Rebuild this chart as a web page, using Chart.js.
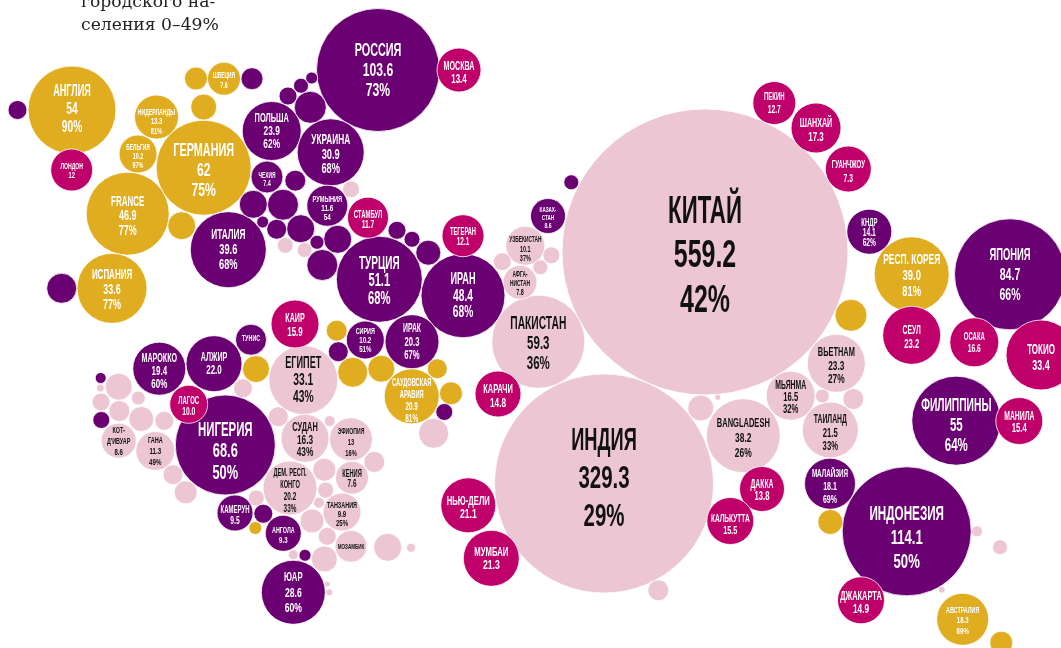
<!DOCTYPE html>
<html>
<head>
<meta charset="utf-8">
<style>
html,body{margin:0;padding:0;background:#fff;overflow:hidden}
canvas{display:block}
</style>
<script src="https://cdn.jsdelivr.net/npm/chart.js@4"></script>
</head>
<body>
<canvas id="chartCities" width="1061" height="648"></canvas>
<script>
// legend fragment, top left of the page
const noteLines=['городского на-','селения 0–49%']

// cities (magenta)
const cityNames=['МОСКВА','ЛОНДОН','СТАМБУЛ','ТЕГЕРАН','КАИР','ЛАГОС','КАРАЧИ','НЬЮ-ДЕЛИ','МУМБАИ','ПЕКИН','ШАНХАЙ','ГУАНЧЖОУ','СЕУЛ','ОСАКА','ТОКИО','МАНИЛА','ДАККА','КАЛЬКУТТА','ДЖАКАРТА']
const cityValues=['13.4','12','11.7','12.1','15.9','10.0','14.8','21.1','21.3','12.7','17.3','7.3','23.2','16.6','33.4','15.4','13.8','15.5','14.9']
const cityX=[459,71.7,368,463,295,188.7,498,468.3,491.3,774.3,816,848.3,911.7,974.3,1041,1019.3,762,730.3,861]
const cityY=[70,170,217.7,235.7,324,404.3,394,505.3,558.3,103,128,169,335.3,342.3,355,421,489,521,600.3]
const cityR=[22,21,20.5,21,24,19,23,27.5,28,21.5,25,23,29,24.5,35,23.5,22.5,23.5,23.5]

// urban share 50-74% (purple), labelled ones first
const midNames=['РОССИЯ','ПОЛЬША','УКРАИНА','ЧЕХИЯ','РУМЫНИЯ','ИТАЛИЯ','ТУРЦИЯ','ИРАН','СИРИЯ','ИРАК','ТУНИС','МАРОККО','АЛЖИР','НИГЕРИЯ','КАМЕРУН','АНГОЛА','ЮАР','КАЗАХ-\nСТАН','КНДР','ЯПОНИЯ','ФИЛИППИНЫ','МАЛАЙЗИЯ','ИНДОНЕЗИЯ']
const midValues=['103.6','23.9','30.9','7.4','11.6','39.6','51.1','48.4','10.2','20.3','','19.4','22.0','68.6','9.5','9.3','28.6','8.6','14.1','84.7','55','18.1','114.1']
const midShares=['73%','62%','68%','','54','68%','68%','68%','51%','67%','','60%','','50%','','','60%','','62%','66%','64%','69%','50%']
const midX=[378,271.7,330.7,267,327.3,228.3,379.3,463,365.3,412,251,159.3,214,225.3,235,283.3,293.3,548,869.3,1010,956.3,830,906.7,
 17.5,252,310.3,288,301,311.7,295.3,253.3,283,262.7,276.7,300.7,337.7,317,322.3,397,412,428.3,571.3,61.7,338.3,444.3,100.7,101.3,263.3,305]
const midY=[70,131,152.3,177,205.7,249.7,279.3,295.7,340,341.7,339.7,368.7,363.7,445,513,533.3,592.3,216,231.7,274.3,420.7,483.7,531.3,
 110,78.7,107.3,96,85.7,78,180.7,204.3,204.7,222,229.3,228.7,239.3,242.3,265,230.3,239.3,252.7,182.3,288.3,351.7,412,378,420,513.7,555.3]
const midR=[61.5,29.5,33.5,16,20.5,38,43,42,19,27,15.5,26.5,28,50,18,18,32,17.5,22.5,55.5,44.5,25.5,64.5,
 9.5,11,16,9,7.5,6,10.5,14,15.5,6,10,14,14,7,15.5,9,8,12.5,7.5,15,10,8.5,5.5,8.5,9.5,6]

// urban share 75-100% (gold), labelled ones first
const highNames=['АНГЛИЯ','ШВЕЦИЯ','НИДЕРЛАНДЫ','БЕЛЬГИЯ','ГЕРМАНИЯ','FRANCE','ИСПАНИЯ','САУДОВСКАЯ\nАРАВИЯ','РЕСП. КОРЕЯ','АВСТРАЛИЯ']
const highValues=['54','7.6','13.3','10.2','62','46.9','33.6','20.9','39.0','18.3']
const highShares=['90%','','81%','97%','75%','77%','77%','81%','81%','89%']
const highX=[72,224,156.5,138,203.7,127.7,112,411.7,911.7,962.7,
 196,203.7,181.7,336.7,352.7,381.3,437.3,451,256,255.3,851,830.3,1001.3]
const highY=[110,78.7,117,154,167.7,213.7,288.3,396.3,274.3,619.3,
 78.5,107,225.7,330.7,372.3,368.7,368.7,393.3,369,528,315.3,522,642.7]
const highR=[44,16.5,22,19,47.5,41.5,35,27.5,37.5,26,
 11.5,13,14,10.5,15,13.5,10,11.5,13.5,6.5,16,12.5,11.5]

// urban share 0-49% (pale pink), labelled ones first
const lowNames=['КИТАЙ','ИНДИЯ','ПАКИСТАН','УЗБЕКИСТАН','АФГА-\nНИСТАН','ЕГИПЕТ','СУДАН','ЭФИОПИЯ','КЕНИЯ','ТАНЗАНИЯ','ДЕМ. РЕСП.\nКОНГО','МОЗАМБИК','КОТ-\nД\'ИВУАР','ГАНА','BANGLADESH','ВЬЕТНАМ','МЬЯНМА','ТАИЛАНД']
const lowValues=['559.2','329.3','59.3','10.1','7.8','33.1','16.3','13','7.6','9.9','20.2','','8.6','11.3','38.2','23.3','16.5','21.5']
const lowShares=['42%','29%','36%','37%','','43%','43%','16%','','25%','33%','','','49%','26%','27%','32%','33%']
const lowX=[705,604,538.3,525.3,520,303.3,305,351,352,342,290,351,118.7,155.3,743.3,836.3,790.7,830.3,
 285.3,304.7,351,551.3,540.3,502.3,658.3,433.7,329.7,374.3,387.7,411,100.3,118.7,101,138.3,119.3,141.3,164.3,243,278.3,173,185.7,324.3,325.7,256.3,319,312,327.3,324.3,293.3,327.3,329.3,822.3,853.3,700.7,717.7,977,1000,941.7]
const lowY=[252,483.5,341.7,245.7,282.3,380,438.3,439.3,477.7,512,488,546.3,440.7,451,435.7,363.3,395.7,430,
 245.3,250,189.3,255.3,267.3,261.7,590.3,433.3,421,462,547.3,547.7,388,386.7,402,398,411,419,420.7,388.3,416.7,474.7,492.3,469.7,490,498,502.7,521,536.3,559,554.7,584,592.3,396,399,408,397.3,531.3,547.3,589.7]
const lowR=[143,109.5,46.5,19.5,17,34.5,24,21.5,16.5,19,27,16,17.5,19.5,37,29,24.5,28,
 8,7.5,8.5,8.5,7.5,9,10.5,15,5.5,10.5,14,4.5,4,13.5,9,7,10.5,12.5,9.5,9.5,10,10,11.5,11.5,8,8,5.5,12,9,13,5,3,3.5,7,10.5,13,3,5.5,7.5,3.5]

// type sizes, keyed by label
const labelFonts={'КИТАЙ':39,'ИНДИЯ':32,'РОССИЯ':19,'ИНДОНЕЗИЯ':20.5,'ЯПОНИЯ':16.5,'НИГЕРИЯ':20,'ГЕРМАНИЯ':19,'ПАКИСТАН':18,'ТУРЦИЯ':17.5,'ИРАН':16,'АНГЛИЯ':16,'ФИЛИППИНЫ':18,'ЕГИПЕТ':16,'FRANCE':14,'ИСПАНИЯ':14,'ИТАЛИЯ':14.5,'BANGLADESH':13.2,'РЕСП. КОРЕЯ':14.8,'ПОЛЬША':13,'УКРАИНА':14.5,'ЮАР':13.5,'ТОКИО':14,'СУДАН':13,'ВЬЕТНАМ':13,'СЕУЛ':12,'ИРАК':12,'АЛЖИР':12.5,'МАРОККО':12.5,'КАИР':12.5,'МОСКВА':12.5,'КАРАЧИ':13,'НЬЮ-ДЕЛИ':13.5,'МУМБАИ':13.5,'ШАНХАЙ':12.5,'ПЕКИН':10.5,'МЬЯНМА':12,'ТАИЛАНД':12,'МАНИЛА':12,'ДЖАКАРТА':13,'МАЛАЙЗИЯ':11,'АВСТРАЛИЯ':9.5,'МОЗАМБИК':8,'КАЗАХ-\nСТАН':8,'НИДЕРЛАНДЫ':9,'БЕЛЬГИЯ':8.5,'УЗБЕКИСТАН':8.5,'АФГА-\nНИСТАН':8.5,'ШВЕЦИЯ':8.5,'ЛОНДОН':9,'ЧЕХИЯ':8.5,'ЭФИОПИЯ':9,'КЕНИЯ':10,'КАМЕРУН':10.5,'ЛАГОС':10.5,'СТАМБУЛ':10.5,'САУДОВСКАЯ\nАРАВИЯ':10,'ДЕМ. РЕСП.\nКОНГО':10,'ДАККА':12,'КАЛЬКУТТА':11.5,'ОСАКА':10.5}
// distance between text lines
const labelGaps={'КИТАЙ':44.5,'ИНДИЯ':38,'ИНДОНЕЗИЯ':24,'НИГЕРИЯ':21.5,'РОССИЯ':20,'ЯПОНИЯ':20,'ФИЛИППИНЫ':20,'ГЕРМАНИЯ':20,'ПАКИСТАН':20,'ТУРЦИЯ':17.5,'ИРАН':16.5,'АНГЛИЯ':17.7,'ЕГИПЕТ':17,'РЕСП. КОРЕЯ':16,'ТОКИО':16.7,'ИСПАНИЯ':15,'ИТАЛИЯ':15,'FRANCE':14.5,'BANGLADESH':15,'ЮАР':15.3,'УКРАИНА':14.2,'ПОЛЬША':13.3,'СЕУЛ':14,'ШАНХАЙ':14,'СУДАН':12.5,'ВЬЕТНАМ':13.5,'ТАИЛАНД':13.5,'МЬЯНМА':11.8,'МАЛАЙЗИЯ':13,'МАРОККО':13,'АЛЖИР':13,'ИРАК':13.3,'КАИР':13.4,'МОСКВА':13.6,'КАРАЧИ':13.4,'НЬЮ-ДЕЛИ':13.4,'МУМБАИ':13,'ДЖАКАРТА':13,'ДАККА':12.7,'КАЛЬКУТТА':12.4,'МАНИЛА':12.4,'ПЕКИН':12.7,'ГУАНЧЖОУ':13.3,'ЭФИОПИЯ':11,'КЕНИЯ':10.3,'ТАНЗАНИЯ':9,'РУМЫНИЯ':9,'КНДР':10.3,'СИРИЯ':9.3,'ДЕМ. РЕСП.\nКОНГО':12,'САУДОВСКАЯ\nАРАВИЯ':12,'КАМЕРУН':11,'АНГОЛА':10,'КОТ-\nД\'ИВУАР':11,'ГАНА':11,'ЛАГОС':10.7,'АВСТРАЛИЯ':10.5,'ШВЕЦИЯ':10.3,'НИДЕРЛАНДЫ':9.7,'БЕЛЬГИЯ':9,'ЛОНДОН':9,'ЧЕХИЯ':8.5,'ТЕГЕРАН':10,'СТАМБУЛ':10,'УЗБЕКИСТАН':9.7,'АФГА-\nНИСТАН':9.3,'КАЗАХ-\nСТАН':8}
// vertical nudge of a label inside its bubble
const labelNudge={'КИТАЙ':4,'ИНДИЯ':-4.5,'ГЕРМАНИЯ':3,'НИГЕРИЯ':6,'ФИЛИППИНЫ':5,'ИНДОНЕЗИЯ':7,'ПАКИСТАН':2,'ЯПОНИЯ':1,'РЕСП. КОРЕЯ':1,'СЕУЛ':1.7,'МОСКВА':2.5,'ЛАГОС':1.7,'ТОКИО':2.7,'СУДАН':1.5,'ЭФИОПИЯ':3,'КЕНИЯ':1.3,'ТАНЗАНИЯ':2,'ДЕМ. РЕСП.\nКОНГО':2.5,'КАМЕРУН':2.5,'АНГОЛА':2,'КАИР':1,'ТУНИС':-1.4,'МАРОККО':2,'САУДОВСКАЯ\nАРАВИЯ':4,'КАРАЧИ':2,'НЬЮ-ДЕЛИ':2,'ВЬЕТНАМ':2.5,'МЬЯНМА':1.7,'ТАИЛАНД':2.7,'BANGLADESH':1.7,'ДАККА':1.3,'КАЛЬКУТТА':3.5,'МАЛАЙЗИЯ':2.5,'МАНИЛА':1,'ДЖАКАРТА':2,'АВСТРАЛИЯ':1,'ШАНХАЙ':1.7,'ГУАНЧЖОУ':2.7,'КНДР':1,'УЗБЕКИСТАН':3,'АФГА-\nНИСТАН':1,'КАЗАХ-\nСТАН':1,'ТЕГЕРАН':1.5,'СТАМБУЛ':1.6,'РУМЫНИЯ':2.3,'УКРАИНА':1.7,'ЧЕХИЯ':2,'ИСПАНИЯ':1.7,'FRANCE':2.3,'БЕЛЬГИЯ':1.7,'НИДЕРЛАНДЫ':4.5,'ШВЕЦИЯ':1.3,'ЛОНДОН':1,'АНГЛИЯ':-1,'ТУРЦИЯ':1.4}
const nameSquash=0.57,numberSquash=0.64

const colors={city:'#c0006a',mid:'#6a0072',high:'#e0ad20',low:'#ecc6d3'}

function toPoints(xs,ys,rs){return xs.map((x,i)=>({x:x,y:ys[i],r:rs[i]}))}
function ds(key,xs,ys,rs){
 return {data:toPoints(xs,ys,rs),backgroundColor:colors[key],borderColor:'#fff',borderWidth:0.8,hoverBorderWidth:0.8,clip:false}
}
function labelRows(names,values,shares){
 return names.map((n,i)=>({name:n,value:values[i],share:shares?shares[i]:''}))
}
// same order as the datasets below
const labelSets=[labelRows(cityNames,cityValues),labelRows(midNames,midValues,midShares),labelRows(highNames,highValues,highShares),labelRows(lowNames,lowValues,lowShares)]

const bubbleLabels={
 id:'bubbleLabels',
 afterDatasetsDraw(chart){
  const c=chart.ctx,sx=chart.scales.x,sy=chart.scales.y
  c.save()
  c.textAlign='center'
  c.textBaseline='middle'
  labelSets.forEach((rows,d)=>{
   c.fillStyle=d==3?'#111':'#fff'
   rows.forEach((row,i)=>{
    const pt=chart.data.datasets[d].data[i]
    const size=labelFonts[row.name]||Math.max(9.5,pt.r*0.24+5)
    const gap=labelGaps[row.name]||size*1.12
    const lines=row.name.split('\n')
    const nameCount=lines.length
    if(row.value)lines.push(row.value)
    if(row.share)lines.push(row.share)
    const px=sx.getPixelForValue(pt.x),py=sy.getPixelForValue(pt.y)+(labelNudge[row.name]||0)
    c.font=`bold ${size}px "Liberation Sans Narrow","Liberation Sans",sans-serif`
    lines.forEach((t,k)=>{
     c.save()
     c.translate(px,py+(k-(lines.length-1)/2)*gap+0.5)
     c.scale(k<nameCount?nameSquash:numberSquash,1)
     c.fillText(t,0,0)
     c.restore()
    })
   })
  })
  c.fillStyle='#222'
  c.textAlign='left'
  c.textBaseline='alphabetic'
  c.font='17.2px "DejaVu Serif",serif'
  c.fillText(noteLines[0],81,7)
  c.fillText(noteLines[1],81,30)
  c.restore()
 }
}

new Chart(document.getElementById('chartCities'),{
 type:'bubble',
 data:{datasets:[
  ds('city',cityX,cityY,cityR),
  ds('mid',midX,midY,midR),
  ds('high',highX,highY,highR),
  ds('low',lowX,lowY,lowR)
 ]},
 options:{
  responsive:false,
  animation:false,
  layout:{padding:0,autoPadding:false},
  scales:{
   x:{type:'linear',display:false,min:0,max:1061},
   y:{type:'linear',display:false,min:0,max:648,reverse:true}
  },
  plugins:{legend:{display:false},tooltip:{enabled:false}}
 },
 plugins:[bubbleLabels]
})
</script>
</body>
</html>
